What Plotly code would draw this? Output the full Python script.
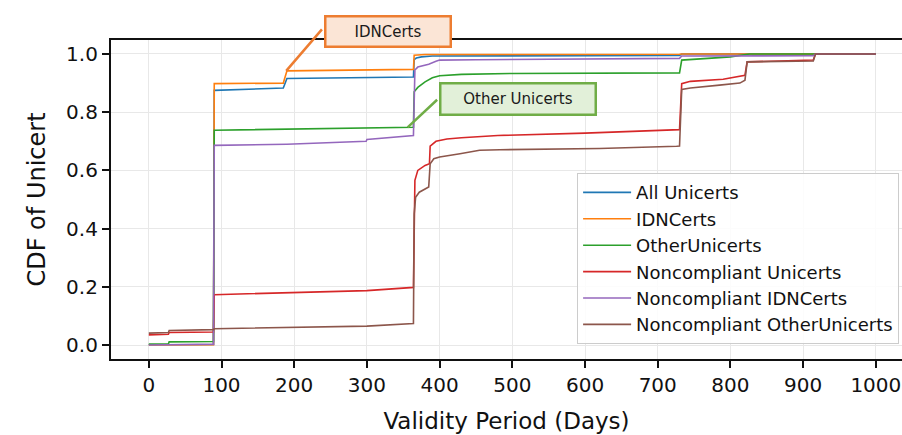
import plotly.graph_objects as go

# ---- data ----
all_days = [0, 89, 90, 185, 190, 364, 365, 368, 375, 390, 730, 733, 1000]
all_cdf = [0.001, 0.002, 0.875, 0.883, 0.916, 0.921, 0.981, 0.986, 0.990, 0.993, 0.995, 1.0, 1.0]

idn_days = [0, 89, 90, 185, 190, 364, 365, 380, 730, 733, 1000]
idn_cdf = [0.0, 0.001, 0.898, 0.900, 0.942, 0.947, 0.996, 0.998, 0.999, 1.0, 1.0]

oth_days = [0, 27, 28, 89, 90, 355, 364, 365, 370, 380, 390, 400, 430, 500, 730, 733, 760, 800, 826, 1000]
oth_cdf = [0.003, 0.004, 0.011, 0.012, 0.738, 0.747, 0.748, 0.870, 0.885, 0.904, 0.918, 0.925, 0.930, 0.933,
           0.935, 0.979, 0.983, 0.990, 1.0, 1.0]

nc_all_days = [0, 27, 28, 89, 90, 300, 364, 365, 366, 370, 380, 386, 387, 395, 410, 430, 480, 600, 730, 733,
               745, 790, 820, 823, 914, 917, 1000]
nc_all_cdf = [0.035, 0.037, 0.043, 0.045, 0.173, 0.187, 0.198, 0.45, 0.566, 0.600, 0.617, 0.623, 0.683, 0.700,
              0.708, 0.712, 0.720, 0.728, 0.740, 0.898, 0.906, 0.913, 0.927, 0.973, 0.979, 1.0, 1.0]

nc_idn_days = [0, 89, 90, 190, 299, 300, 364, 365, 366, 370, 385, 395, 400, 450, 730, 733, 914, 917, 1000]
nc_idn_cdf = [0.0, 0.003, 0.686, 0.690, 0.700, 0.706, 0.720, 0.930, 0.945, 0.955, 0.965, 0.975, 0.979, 0.980,
              0.985, 0.993, 0.994, 1.0, 1.0]

nc_oth_days = [0, 27, 28, 89, 90, 300, 364, 365, 367, 372, 385, 387, 392, 400, 428, 455, 483, 620, 726, 730,
               733, 745, 785, 813, 820, 823, 914, 917, 1000]
nc_oth_cdf = [0.041, 0.043, 0.050, 0.053, 0.056, 0.065, 0.074, 0.45, 0.508, 0.525, 0.543, 0.623, 0.640, 0.646,
              0.657, 0.669, 0.671, 0.675, 0.683, 0.684, 0.878, 0.883, 0.893, 0.900, 0.910, 0.973, 0.976, 1.0, 1.0]

series_names = ["All Unicerts", "IDNCerts", "OtherUnicerts", "Noncompliant Unicerts",
                "Noncompliant IDNCerts", "Noncompliant OtherUnicerts"]
series_x = [all_days, idn_days, oth_days, nc_all_days, nc_idn_days, nc_oth_days]
series_y = [all_cdf, idn_cdf, oth_cdf, nc_all_cdf, nc_idn_cdf, nc_oth_cdf]
colors = ["#1f77b4", "#ff7f0e", "#2ca02c", "#d62728", "#9467bd", "#8c564b"]

x_ticks = [0, 100, 200, 300, 400, 500, 600, 700, 800, 900, 1000]
y_ticks = [0.0, 0.2, 0.4, 0.6, 0.8, 1.0]

FONT = "DejaVu Sans"

fig = go.Figure()
for name, xs, ys, c in zip(series_names, series_x, series_y, colors):
    fig.add_trace(go.Scatter(x=xs, y=ys, mode="lines", name=name,
                             line=dict(color=c, width=1.6)))

axis_common = dict(showline=True, linecolor="#111111", linewidth=2.2,
                   ticks="outside", ticklen=7, tickwidth=2, tickcolor="#111111",
                   showgrid=True, gridcolor="#e8e8e8", gridwidth=1, zeroline=False,
                   automargin=False,
                   tickfont=dict(family=FONT, size=20, color="#111111"))

fig.update_xaxes(range=[-52, 1036], tickvals=x_ticks, ticktext=[str(v) for v in x_ticks],
                 mirror=True,
                 title=dict(text="Validity Period (Days)", font=dict(family=FONT, size=23, color="#111111"),
                            standoff=17),
                 **axis_common)
fig.update_yaxes(range=[-0.048, 1.048], tickvals=y_ticks, ticktext=[f"{v:.1f}" for v in y_ticks],
                 title=dict(text="CDF of Unicert", font=dict(family=FONT, size=24, color="#111111"),
                            standoff=14),
                 **axis_common)

# callout arrows (line only) and boxes
fig.add_annotation(x=189, y=0.942, ax=37, ay=-43, xref="x", yref="y",
                   text="", showarrow=True, arrowhead=0, arrowwidth=2.5, arrowcolor="#ed7d31")
fig.add_annotation(x=0.3508, y=1.028, xref="paper", yref="paper", xanchor="center", yanchor="middle",
                   text="IDNCerts", showarrow=False,
                   font=dict(family=FONT, size=15, color="#1a1a1a"),
                   bgcolor="#fbe5d6", bordercolor="#ed7d31", borderwidth=2.5, borderpad=0,
                   width=123, height=28)
fig.add_annotation(x=356, y=0.748, ax=31, ay=-29, xref="x", yref="y",
                   text="", showarrow=True, arrowhead=0, arrowwidth=2.5, arrowcolor="#70ad47")
fig.add_annotation(x=0.515, y=0.8135, xref="paper", yref="paper", xanchor="center", yanchor="middle",
                   text="Other Unicerts", showarrow=False,
                   font=dict(family=FONT, size=15, color="#1a1a1a"),
                   bgcolor="#e2f0d9", bordercolor="#70ad47", borderwidth=2.5, borderpad=0,
                   width=153, height=29)

fig.update_layout(
    width=902, height=435,
    margin=dict(l=111, r=0, t=40, b=76, autoexpand=False),
    paper_bgcolor="white", plot_bgcolor="white",
    font=dict(family=FONT, color="#111111"),
    legend=dict(x=0.589, y=0.583, xanchor="left", yanchor="top",
                bgcolor="rgba(255,255,255,0.85)", bordercolor="#cccccc", borderwidth=1.2,
                itemwidth=48,
                font=dict(family=FONT, size=18, color="#111111"), tracegroupgap=0),
    showlegend=True,
)

fig.write_html("out.html", config={"responsive": False, "displayModeBar": False},
               post_script="document.body.style.margin='0';document.body.style.overflow='hidden';")
